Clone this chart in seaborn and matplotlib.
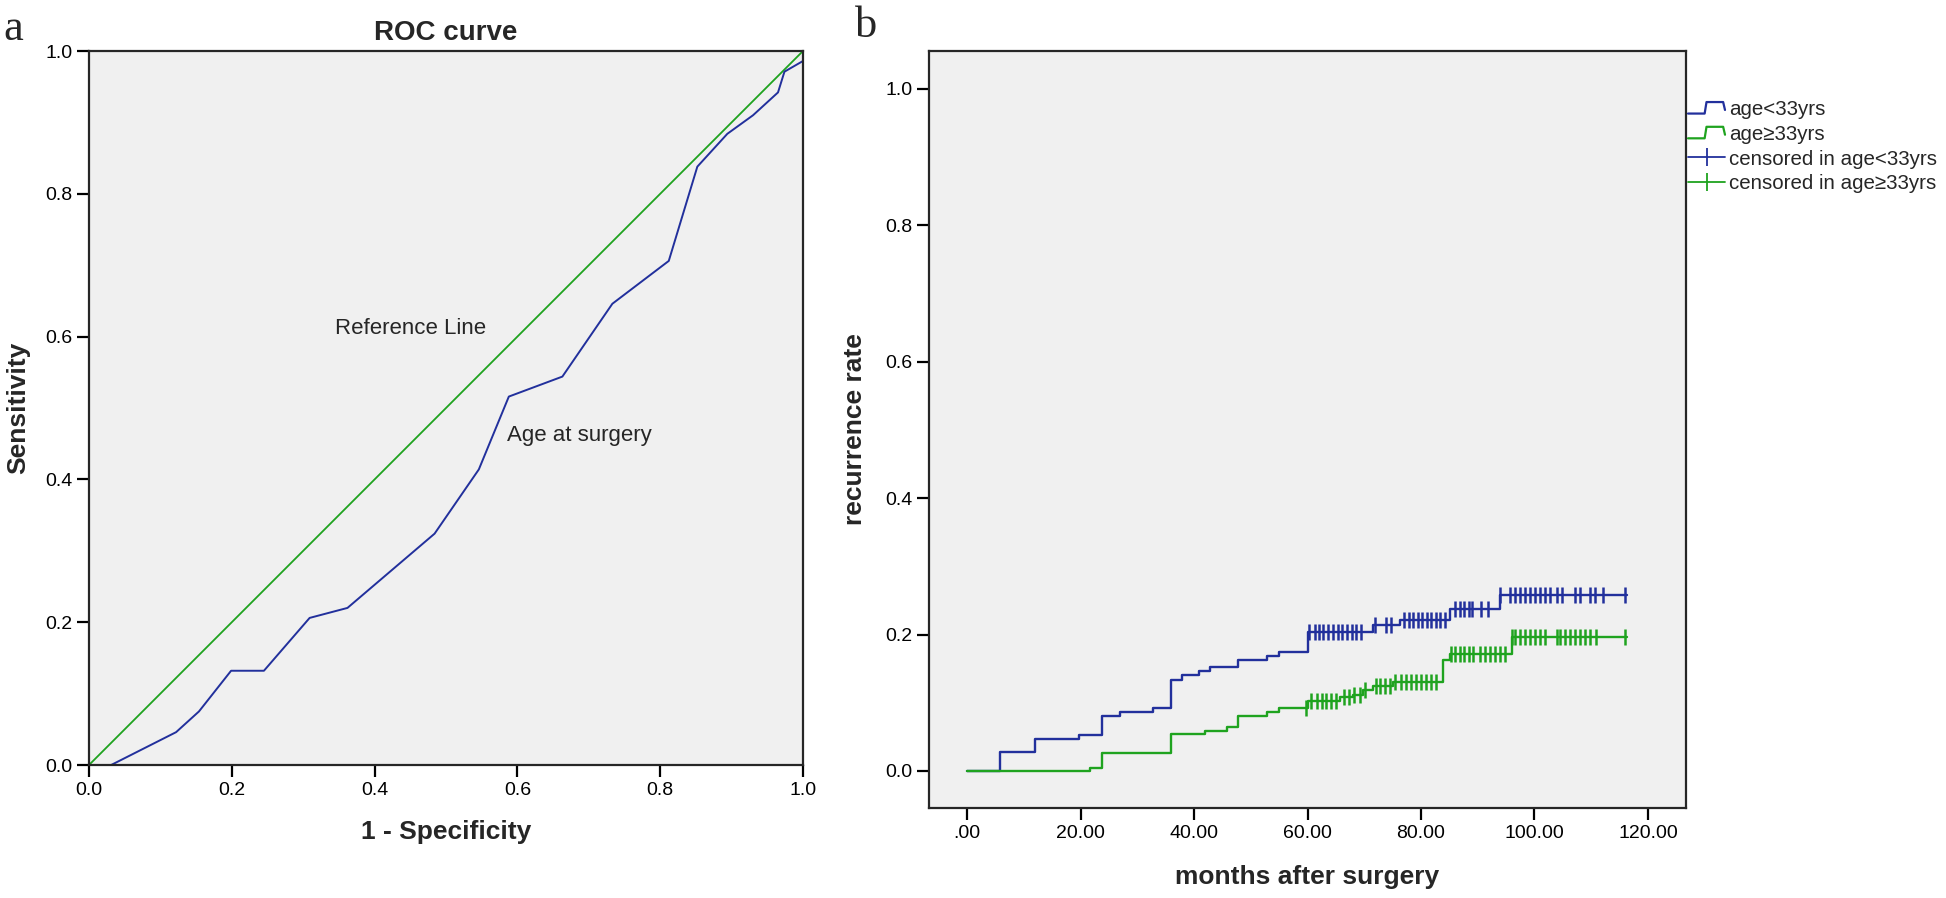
import numpy as np
import pandas as pd
import seaborn as sns
import matplotlib.pyplot as plt
from matplotlib.lines import Line2D
from matplotlib.legend_handler import HandlerBase

# ---- panel a : ROC curve ----
roc_fpr = [0.0, 0.031, 0.122, 0.154, 0.199, 0.245, 0.309, 0.362, 0.484, 0.546,
           0.588, 0.663, 0.733, 0.812, 0.852, 0.894, 0.930, 0.965, 0.974, 1.0]
roc_tpr = [0.0, 0.0, 0.046, 0.075, 0.132, 0.132, 0.206, 0.220, 0.324, 0.414,
           0.516, 0.544, 0.646, 0.706, 0.838, 0.884, 0.910, 0.942, 0.971, 0.986]
ref_x = [0.0, 1.0]
ref_y = [0.0, 1.0]

# ---- panel b : recurrence curves ----
young_t = [0, 5.8, 11.9, 19.8, 23.7, 27.0, 32.8, 35.9, 37.8, 40.9, 42.9, 47.8,
           52.8, 54.9, 60.0, 71.5, 76.3, 85.1, 93.9, 116.3]
young_r = [0, 0.028, 0.047, 0.053, 0.081, 0.087, 0.093, 0.134, 0.140, 0.146, 0.152,
           0.163, 0.168, 0.175, 0.204, 0.214, 0.222, 0.238, 0.258, 0.258]
young_cens = [60.2, 61.3, 62.0, 62.8, 63.6, 64.5, 65.3, 66.1, 66.9, 67.8, 68.6, 69.5,
              71.9, 73.9, 74.8, 77.0, 77.8, 78.6, 79.4, 80.2, 81.0, 81.8, 82.6, 83.4,
              84.2, 86.0, 86.8, 87.6, 88.4, 89.0, 90.5, 91.8, 93.9, 95.7, 96.6, 97.4,
              98.3, 99.2, 100.1, 101.0, 101.9, 102.7, 103.9, 104.8, 107.1, 108.0,
              109.8, 110.7, 112.1, 116.0]

old_t = [0, 21.7, 23.7, 35.9, 41.9, 45.9, 47.8, 52.8, 54.9, 60.0, 65.7, 68.0, 69.8,
         71.5, 75.1, 83.9, 85.1, 96.0, 116.3]
old_r = [0, 0.005, 0.027, 0.054, 0.059, 0.065, 0.081, 0.086, 0.093, 0.103, 0.108,
         0.112, 0.119, 0.125, 0.130, 0.162, 0.172, 0.196, 0.196]
old_cens = [59.8, 60.6, 61.6, 62.5, 63.3, 64.2, 65.1, 66.4, 67.3, 68.2, 69.2, 70.1,
            72.0, 72.8, 73.7, 74.6, 75.5, 76.4, 77.3, 78.2, 79.1, 80.0, 80.9, 81.8,
            82.6, 85.2, 86.0, 86.8, 87.6, 88.4, 89.2, 90.4, 91.2, 92.1, 93.0, 93.9,
            94.8, 96.0, 96.6, 97.4, 98.3, 99.2, 100.1, 101.0, 101.9, 103.9, 104.5,
            105.4, 106.3, 107.1, 108.0, 108.9, 109.8, 110.9, 116.0]

group_names = ['age<33yrs', 'age\u226533yrs']
cens_names = ['censored in age<33yrs', 'censored in age\u226533yrs']

blue = '#22309c'
green = '#1fa31f'
bg = '#f0f0f0'

sns.set_style('ticks')
plt.rcParams['font.family'] = ['Liberation Sans', 'DejaVu Sans']
plt.rcParams['axes.linewidth'] = 1.6
plt.rcParams['xtick.major.width'] = 1.6
plt.rcParams['ytick.major.width'] = 1.6
plt.rcParams['xtick.major.size'] = 8.5
plt.rcParams['ytick.major.size'] = 8.5
plt.rcParams['xtick.color'] = 'black'
plt.rcParams['ytick.color'] = 'black'

fig = plt.figure(figsize=(19.46, 8.98), dpi=100)
ax1 = fig.add_axes([89/1946, 1-765/898, 714/1946, 714/898])
ax2 = fig.add_axes([929/1946, 1-808/898, 757/1946, 757/898])

# ROC panel
ax1.set_facecolor(bg)
sns.lineplot(x=ref_x, y=ref_y, ax=ax1, color=green, lw=1.3, estimator=None)
sns.lineplot(x=roc_fpr, y=roc_tpr, ax=ax1, color=blue, lw=1.4, estimator=None, sort=False)
ax1.set_xlim(0, 1)
ax1.set_ylim(0, 1)
ax1.set_xticks(np.arange(0, 1.01, 0.2))
ax1.set_yticks(np.arange(0, 1.01, 0.2))
ax1.set_xticklabels(['%.1f' % v for v in np.arange(0, 1.01, 0.2)])
ax1.set_yticklabels(['%.1f' % v for v in np.arange(0, 1.01, 0.2)])
ax1.tick_params(labelsize=14)
ax1.set_xlabel('1 - Specificity', fontsize=19, fontweight='bold', labelpad=15)
ax1.set_ylabel('Sensitivity', fontsize=19, fontweight='bold', labelpad=11)
ax1.set_title('ROC curve', fontsize=20, fontweight='bold', pad=8)
ax1.text(0.345, 0.612, 'Reference Line', fontsize=16, va='center')
ax1.text(0.585, 0.462, 'Age at surgery', fontsize=16, va='center')
for s in ax1.spines.values():
    s.set_visible(True)

# recurrence panel
ax2.set_facecolor(bg)
sns.lineplot(x=young_t, y=young_r, ax=ax2, color=blue, lw=1.7,
             drawstyle='steps-post', estimator=None, sort=False)
sns.lineplot(x=old_t, y=old_r, ax=ax2, color=green, lw=1.7,
             drawstyle='steps-post', estimator=None, sort=False)

def step_value(t, r, c):
    idx = np.searchsorted(np.array(t), np.array(c), side='right') - 1
    return np.array(r)[idx]

ax2.plot(young_cens, step_value(young_t, young_r, young_cens), ls='none',
         marker='|', ms=12, mew=1.8, color=blue)
ax2.plot(old_cens, step_value(old_t, old_r, old_cens), ls='none',
         marker='|', ms=12, mew=1.8, color=green)
ax2.set_xlim(-6.7, 126.7)
ax2.set_ylim(-0.0543, 1.0557)
xt = np.arange(0, 121, 20)
ax2.set_xticks(xt)
ax2.set_xticklabels(['.00'] + ['%.2f' % v for v in xt[1:]])
ax2.set_yticks(np.arange(0, 1.01, 0.2))
ax2.set_yticklabels(['%.1f' % v for v in np.arange(0, 1.01, 0.2)])
ax2.tick_params(labelsize=14)
ax2.set_xlabel('months after surgery', fontsize=19, fontweight='bold', labelpad=17)
ax2.set_ylabel('recurrence rate', fontsize=19, fontweight='bold', labelpad=13)
for s in ax2.spines.values():
    s.set_visible(True)


class StepHandler(HandlerBase):
    def create_artists(self, legend, orig_handle, xdescent, ydescent, width, height,
                       fontsize, trans):
        x0, y0 = -xdescent, -ydescent
        xs = [x0, x0 + 0.45*width, x0 + 0.5*width, x0 + 0.95*width, x0 + width]
        ys = [y0 + 0.1*height, y0 + 0.1*height, y0 + 0.9*height, y0 + 0.9*height,
              y0 + 0.35*height]
        ln = Line2D(xs, ys, color=orig_handle.get_color(), lw=1.6)
        ln.set_transform(trans)
        return [ln]


h1 = Line2D([], [], color=blue, lw=1.6)
h2 = Line2D([], [], color=green, lw=1.6)
h3 = Line2D([], [], color=blue, lw=1.3, marker='|', ms=13, mew=1.3)
h4 = Line2D([], [], color=green, lw=1.3, marker='|', ms=13, mew=1.3)
fig.legend([h1, h2, h3, h4], group_names + cens_names,
           handler_map={h1: StepHandler(), h2: StepHandler()},
           loc='upper left', bbox_to_anchor=(1688/1946, 1 - 100/898),
           frameon=False, fontsize=14.8, handlelength=1.8, handletextpad=0.2,
           labelspacing=0.28, borderpad=0, borderaxespad=0)

fig.text(3/1946, 1 - 40/898, 'a', fontsize=32, family='Liberation Serif', va='baseline')
fig.text(855/1946, 1 - 37/898, 'b', fontsize=32, family='Liberation Serif', va='baseline')

fig.savefig('out.png', dpi=100, facecolor='white')
